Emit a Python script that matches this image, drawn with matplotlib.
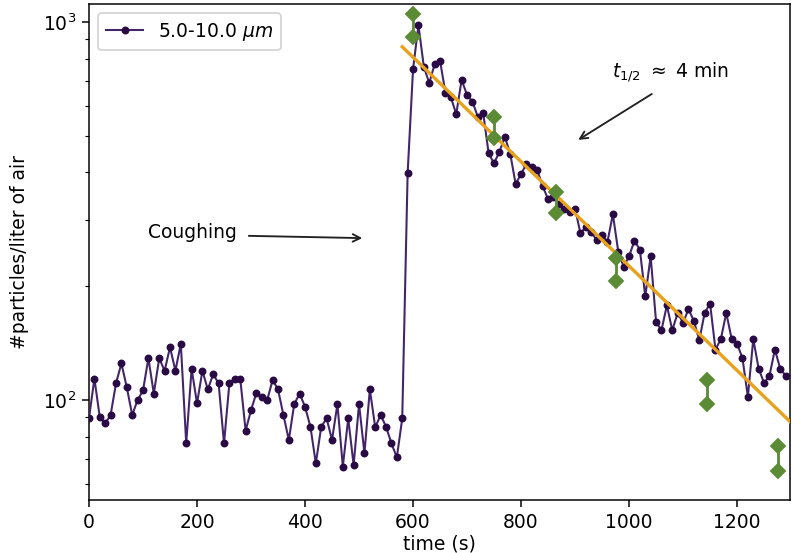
import numpy as np
import matplotlib
matplotlib.use("Agg")
import matplotlib.pyplot as plt

# ---- data ----
time_s = np.arange(0, 1300, 10)
particles = [
    89.6, 114, 90, 86.7, 91.3, 110.7, 125, 108, 91.3, 100,
    106, 129, 104, 129, 119.5, 138, 119.5, 141, 76.8, 121,
    98, 119.5, 106.7, 117, 110.7, 76.8, 111, 114, 114, 83,
    94, 104.5, 102, 100, 113, 106.7, 91.3, 78.4, 97.6, 104,
    96, 85, 68, 85, 89.4, 78.4, 97.6, 66.7, 89.4, 67.3,
    97.6, 72.3, 106.7, 84.7, 91.3, 85, 76.8, 70.5, 89.4, 398,
    750, 981, 762, 689, 774, 790, 650, 632, 571, 703,
    641, 616, 561, 573, 449, 423, 454, 497, 448, 373,
    396, 421, 414, 406, 368, 340, 345, 331, 321, 315,
    321, 276, 287, 278, 265, 273, 262, 310, 247, 225,
    240, 264, 250, 188, 240, 161, 153, 178, 153, 170,
    160, 174, 162, 144, 170, 180, 136, 145, 170, 145,
    141, 129, 102, 145, 121, 111, 116, 136, 121, 116,
]

model_t = [600, 750, 865, 975, 1145, 1275]
model_hi = [1050, 561, 356, 237, 113, 75.5]
model_lo = [912, 492, 312, 206, 97.6, 65]

fit_t_start, fit_t_end = 580, 1300
fit_amp = 860          # value at fit_t_start
half_life_s = 218      # ~ 4 min

series_label = r"5.0-10.0 $\mu m$"

# ---- plot ----
fig = plt.figure(figsize=(793 / 135, 553 / 135), dpi=135)
ax = fig.add_axes([89 / 793, 1 - 500 / 553, (790 - 89) / 793, (500 - 4) / 553])

ax.plot(time_s, particles, "-o", color="#43256a", lw=1.1, ms=3.2,
        mfc="#2a0a45", mec="#2a0a45", label=series_label, zorder=3)

tf = np.linspace(fit_t_start, fit_t_end, 100)
ax.plot(tf, fit_amp * 0.5 ** ((tf - fit_t_start) / half_life_s),
        color="#e8a21e", lw=1.8, zorder=4)

for t, lo, hi in zip(model_t, model_lo, model_hi):
    ax.plot([t, t], [lo, hi], "-D", color="#5c8b36", lw=1.5, ms=5, zorder=5)

ax.set_yscale("log")
ax.set_xlim(0, 1298)
ax.set_ylim(54.4, 1116)
ax.set_xticks([0, 200, 400, 600, 800, 1000, 1200])
ax.set_xlabel("time (s)", labelpad=1)
ax.set_ylabel("#particles/liter of air", labelpad=7)

ax.text(109, 278, "Coughing", ha="left", va="center")
ax.annotate("", xy=(513, 268), xytext=(289, 272),
            arrowprops=dict(arrowstyle="->", color="#222222", lw=1.0))

ax.text(968, 738, r"$t_{1/2}$ $\approx$ 4 min", ha="left", va="center")
ax.annotate("", xy=(900, 482), xytext=(1048, 653),
            arrowprops=dict(arrowstyle="->", color="#222222", lw=1.0))

ax.legend(loc="upper left")

fig.savefig("out.png", dpi=135)
